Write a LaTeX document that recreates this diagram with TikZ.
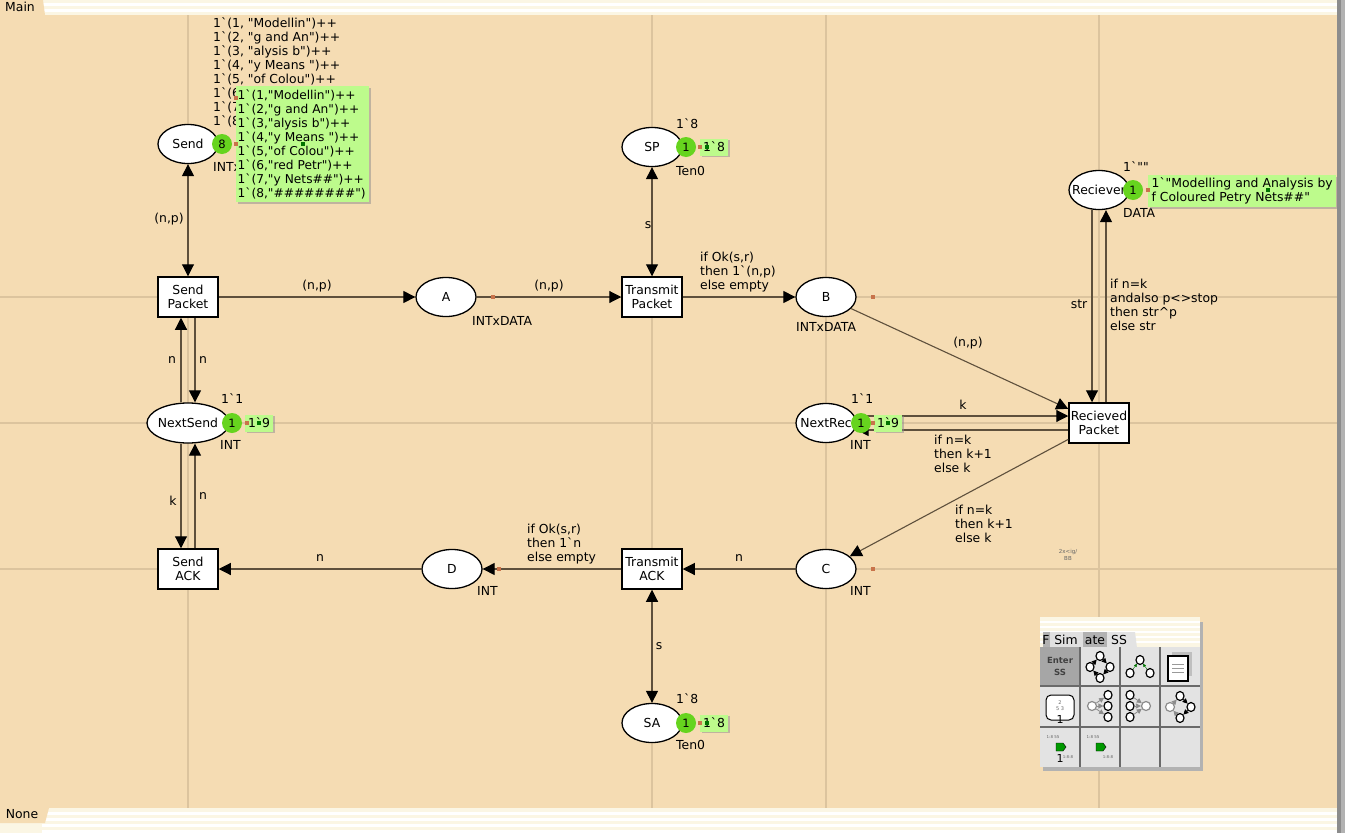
\documentclass[tikz,border=0pt]{standalone}
\usepackage{fontspec}
\setmainfont{DejaVu Sans}[Ligatures=TeXOff]
\usetikzlibrary{arrows.meta,shadows,shapes.geometric}
\definecolor{pagebg}{HTML}{F5DCB3}
\definecolor{guide}{HTML}{DCC49E}
\definecolor{stripe}{HTML}{FBF6E4}
\definecolor{arcline}{HTML}{5E503C}
\definecolor{tokengreen}{HTML}{66D41E}
\definecolor{markgreen}{HTML}{BDFB8C}
\definecolor{dotred}{HTML}{C8734A}
\definecolor{panelgray}{HTML}{E3E3E3}
\definecolor{panelline}{HTML}{6A6A6A}
\newcommand{\cpnfont}{\fontsize{12.4}{14}\selectfont}
\tikzset{
	txt/.style={font=\cpnfont,inner sep=0pt,align=left},
	place/.style={draw=black,line width=1.3pt,fill=white,ellipse,minimum width=60pt,minimum height=39pt,inner xsep=-12pt,inner ysep=0pt,font=\cpnfont},
	trans/.style={draw=black,line width=1.5pt,fill=white,rectangle,minimum width=60pt,minimum height=40pt,inner sep=0pt,align=center,font=\cpnfont},
	token/.style={circle,fill=tokengreen,minimum size=20pt,inner sep=0pt,font=\fontsize{11.5}{13}\selectfont},
	marking/.style={fill=markgreen,inner sep=1.5pt,align=left,drop shadow={shadow xshift=1.5pt,shadow yshift=-1.5pt,fill=black!45},font=\cpnfont},
	arc/.style={draw=arcline,line width=1.1pt,-{Triangle[length=12pt,width=12pt,fill=black,color=black]}},
	duoarc/.style={draw=arcline,line width=1.1pt,{Triangle[length=12pt,width=12pt,fill=black,color=black]}-{Triangle[length=12pt,width=12pt,fill=black,color=black]}},
	dot/.style={fill=dotred,minimum size=4pt,inner sep=0pt},
	greendot/.style={fill=green!45!black,minimum size=3.5pt,inner sep=0pt},
	icon/.style={draw=black,line width=1.2pt,fill=white,ellipse,minimum width=8pt,minimum height=9pt,inner sep=0pt},
	fadedicon/.style={draw=black!45,line width=1.2pt,fill=white,ellipse,minimum width=9pt,minimum height=9pt,inner sep=0pt},
	iconarc/.style={-{Triangle[length=5pt,width=5pt]},line width=0.8pt},
	fadedarc/.style={draw=black!45,-{Triangle[length=5pt,width=5pt]},line width=0.8pt},
}
\begin{document}
\begin{tikzpicture}[x=1pt,y=-1pt,>=stealth]
\useasboundingbox (0,0) rectangle (1345,833);
\fill[stripe] (0,0) rectangle (1345,833);
\fill[pagebg] (0,15) rectangle (1337,808);
% The stripes at the top and the bottom
\foreach \yy in {3,9,812,818,824,830}
{
	\fill[white] (42,\yy) rectangle (1337,\yy+2.5);
}
\fill[pagebg] (0,0) -- (43,0) -- (45,15) -- (0,15) -- cycle;
\fill[pagebg] (0,808) -- (49,808) -- (45,823) -- (0,823) -- cycle;
\node[txt] (maintab) at (20,6.5) {Main};
\node[txt] (nonetab) at (22,814) {None};
% The right border
\fill[black!45] (1337,0) rectangle (1345,833);
\fill[black!30] (1341,0) rectangle (1345,833);
% The guide lines
\foreach \xx in {188,652,826,1099}
{
	\draw[guide,line width=1.5pt] (\xx,15) -- (\xx,808);
}
\foreach \yy in {297,423,569}
{
	\draw[guide,line width=1.5pt] (0,\yy) -- (1337,\yy);
}

% The places
\node[place] (send) at (188,144) {Send};
\node[place,minimum width=82pt,minimum height=40pt] (nextsend) at (188,423) {NextSend};
\node[place] (a) at (446,297) {A};
\node[place] (b) at (826,297) {B};
\node[place] (c) at (826,569) {C};
\node[place] (d) at (452,569) {D};
\node[place] (sp) at (652,147) {SP};
\node[place] (sa) at (652,723) {SA};
\node[place] (nextrec) at (826,423) {NextRec};
\node[place] (reciever) at (1099,190) {Reciever};

% The transitions
\node[trans] (sendpacket) at (188,297) {Send\\Packet};
\node[trans] (sendack) at (188,569) {Send\\ACK};
\node[trans] (transmitpacket) at (652,297) {Transmit\\Packet};
\node[trans] (transmitack) at (652,569) {Transmit\\ACK};
\node[trans] (recievedpacket) at (1099,423) {Recieved\\Packet};

% The arcs
\draw[duoarc] (send) -- (sendpacket);
\draw[arc] (sendpacket) -- (a);
\draw[arc] (a) -- (transmitpacket);
\draw[arc] (transmitpacket) -- (b);
\draw[duoarc] (sp) -- (transmitpacket);
\draw[duoarc] (transmitack) -- (sa);
\draw[arc] (b) -- (recievedpacket);
\draw[arc] (recievedpacket) -- (c);
\draw[arc] (c) -- (transmitack);
\draw[arc] (transmitack) -- (d);
\draw[arc] (d) -- (sendack);
\draw[arc] ([xshift=-7pt]nextsend.north) -- ([xshift=-7pt]sendpacket.south);
\draw[arc] ([xshift=7pt]sendpacket.south) -- ([xshift=7pt]nextsend.north);
\draw[arc] ([xshift=-7pt]nextsend.south) -- ([xshift=-7pt]sendack.north);
\draw[arc] ([xshift=7pt]sendack.north) -- ([xshift=7pt]nextsend.south);
\draw[arc] ([yshift=7pt]nextrec.east) -- ([yshift=7pt]recievedpacket.west);
\draw[arc] ([yshift=-7pt]recievedpacket.west) -- ([yshift=-7pt]nextrec.east);
\draw[arc] ([xshift=-7pt]reciever.south) -- ([xshift=-7pt]recievedpacket.north);
\draw[arc] ([xshift=7pt]recievedpacket.north) -- ([xshift=7pt]reciever.south);

% The arc labels
\node[txt] (lsend) at (169,219) {(n,p)};
\node[txt] (lsa) at (317,286) {(n,p)};
\node[txt] (lat) at (549,286) {(n,p)};
\node[txt] (ls) at (648,225) {s};
\node[txt,anchor=north west] (lok) at (700,252) {if Ok(s,r)\\then 1`(n,p)\\else empty};
\node[txt] (lbr) at (968,343) {(n,p)};
\node[txt] (lnl) at (172,360) {n};
\node[txt] (lnr) at (203,360) {n};
\node[txt] (lkl) at (173,501) {k};
\node[txt] (lnb) at (203,496) {n};
\node[txt] (lk) at (963,405) {k};
\node[txt,anchor=north west] (lifa) at (934,435) {if n=k\\then k+1\\else k};
\node[txt,anchor=north west] (lifb) at (955,505) {if n=k\\then k+1\\else k};
\node[txt] (lstr) at (1079,304) {str};
\node[txt,anchor=north west] (lif) at (1110,279) {if n=k\\andalso p<>stop\\then str\^{}p\\else str};
\node[txt] (lnc) at (739,558) {n};
\node[txt,anchor=north west] (lokd) at (527,524) {if Ok(s,r)\\then 1`n\\else empty};
\node[txt] (lnd) at (320,558) {n};
\node[txt] (lsb) at (659,646) {s};

% The colour sets and the initial markings
\node[txt,anchor=west] (csa) at (472,321) {INTxDATA};
\node[txt,anchor=west] (csb) at (796,327) {INTxDATA};
\node[txt,anchor=west] (csc) at (850,591) {INT};
\node[txt,anchor=west] (csd) at (477,591) {INT};
\node[txt,anchor=west] (cssp) at (676,171) {Ten0};
\node[txt,anchor=west] (cssa) at (676,745) {Ten0};
\node[txt,anchor=west] (csnr) at (850,445) {INT};
\node[txt,anchor=west] (csns) at (220,445) {INT};
\node[txt,anchor=west] (csr) at (1123,213) {DATA};
\node[txt,anchor=west] (cssend) at (213,167) {INTxDATA};
\node[txt,anchor=west] (insp) at (676,124) {1`8};
\node[txt,anchor=west] (insa) at (676,699) {1`8};
\node[txt,anchor=west] (insn) at (221,399) {1`1};
\node[txt,anchor=west] (innr) at (851,399) {1`1};
\node[txt,anchor=west] (inr) at (1123,167) {1`""};
\node[txt,anchor=north west] (insend) at (213,17.5) {1`(1, "Modellin")++\\1`(2, "g and An")++\\1`(3, "alysis b")++\\1`(4, "y Means ")++\\1`(5, "of Colou")++\\1`(6, "red Petr")++\\1`(7, "y Nets\#\#")++\\1`(8, "\#\#\#\#\#\#\#\#")};

% The current markings
\node[marking,anchor=north west,font=\fontsize{12.2}{14}\selectfont,text width=130pt,minimum height=116pt] (marksend) at (236,86) {1`(1,"Modellin")++\\1`(2,"g and An")++\\1`(3,"alysis b")++\\1`(4,"y Means ")++\\1`(5,"of Colou")++\\1`(6,"red Petr")++\\1`(7,"y Nets\#\#")++\\1`(8,"\#\#\#\#\#\#\#\#")};
\node[marking,minimum width=28pt,minimum height=17pt] (marksp) at (714,147) {1`8};
\node[marking,minimum width=28pt,minimum height=17pt] (marksa) at (714,723) {1`8};
\node[marking,minimum width=28pt,minimum height=17pt] (markns) at (259,423) {1`9};
\node[marking,minimum width=28pt,minimum height=17pt] (marknr) at (888,423) {1`9};
\node[marking,anchor=north west,minimum width=188pt,minimum height=32pt] (markr) at (1148,175) {1`"Modelling and Analysis by\\f Coloured Petry Nets\#\#"};

% The tokens
\node[token] (tsend) at (222,144) {8};
\node[token] (tns) at (232,423) {1};
\node[token] (tsp) at (686,147) {1};
\node[token] (tsa) at (686,723) {1};
\node[token] (tnr) at (861,423) {1};
\node[token] (tr) at (1133,190) {1};

% The small squares
\foreach \px/\py in {236/98,236/144,247/423,700/147,700/723,873/423,1148/190,493/297,873/297,873/569,499/569}
{
	\node[dot] at (\px,\py) {};
}
\foreach \px/\py in {303/144,259/423,707/147,707/723,888/423,1268/190}
{
	\node[greendot] at (\px,\py) {};
}

% The tiny text
\node[font=\fontsize{5.5}{6.5}\selectfont,text=black!60,align=center,inner sep=0pt] (tiny) at (1068,555) {2x<ig/\\BB};

% The tool box
\fill[black!30] (1043,622) rectangle (1203,771);
\fill[stripe] (1040,617) rectangle (1200,647);
\foreach \yy in {621,626,631,636,641}
{
	\fill[white] (1040,\yy) rectangle (1200,\yy+2);
}
\fill[black!30] (1043,632) rectangle (1107,648);
\fill[black!12] (1050,632) rectangle (1083,648);
\fill[panelgray] (1107,632) -- (1135,632) -- (1137,648) -- (1107,648) -- cycle;
\node[txt] (tabh) at (1046,640) {F};
\node[txt] (tabsim) at (1066,640) {Sim};
\node[txt] (tabate) at (1095,640) {ate};
\node[txt] (tabss) at (1119,640) {SS};
\fill[panelgray] (1040,647) rectangle (1200,767);
\fill[black!35] (1040,647) rectangle (1080,686);
\foreach \xx in {1080,1120,1160}
{
	\draw[panelline,line width=1.2pt] (\xx,647) -- (\xx,767);
}
\foreach \yy in {686,727}
{
	\draw[panelline,line width=1.2pt] (1040,\yy) -- (1200,\yy);
}
\node[font=\fontsize{8.5}{12}\selectfont\bfseries,text=black!75,align=center,inner sep=0pt] (enterss) at (1060,666) {Enter\\SS};

% The icons
\node[icon] (ia) at (1100,656) {};
\node[icon] (ib) at (1090,667) {};
\node[icon] (ic) at (1110,667) {};
\node[icon] (id) at (1100,678) {};
\draw[iconarc] (ia) -- (ic);
\draw[iconarc] (ic) -- (id);
\draw[iconarc] (id) -- (ib);
\draw[iconarc] (ib) -- (ia);
\node[icon] (ie) at (1140,660) {};
\node[icon] (if) at (1130,673) {};
\node[icon] (ig) at (1150,673) {};
\draw[-{Triangle[length=3pt,width=3pt]},green!45!black] (if) -- (ie);
\draw[-{Triangle[length=3pt,width=3pt]},green!45!black] (ig) -- (ie);
\fill[black!25] (1172,652) rectangle (1192,676);
\draw[black,line width=1.5pt,fill=white] (1168,656) rectangle (1188,681);
\foreach \yy in {664,668,672}
{
	\draw[black!40,line width=0.4pt] (1172,\yy) -- (1184,\yy);
}
\draw[black,line width=1pt,fill=white,rounded corners=5pt] (1046,695) rectangle (1074,720);
\node[font=\fontsize{5}{6}\selectfont,text=black!60,inner sep=0pt,align=center] (ipage) at (1060,706) {2\\5 3};
\node[font=\fontsize{11}{12}\selectfont,inner sep=0pt] (ione) at (1060,719) {1};
\node[fadedicon] (jd) at (1092,706) {};
\node[icon] (jf) at (1108,695) {};
\node[icon] (jg) at (1108,706) {};
\node[icon] (jh) at (1108,717) {};
\draw[fadedarc] (jd) -- (jf);
\draw[fadedarc] (jd) -- (jg);
\draw[fadedarc] (jd) -- (jh);
\node[icon] (ka) at (1130,695) {};
\node[icon] (kb) at (1130,706) {};
\node[icon] (kc) at (1130,717) {};
\node[fadedicon] (kd) at (1146,706) {};
\draw[fadedarc] (ka) -- (kd);
\draw[fadedarc] (kb) -- (kd);
\draw[fadedarc] (kc) -- (kd);
\node[icon] (la) at (1180,696) {};
\node[fadedicon] (lb) at (1170,707) {};
\node[icon] (lc) at (1191,707) {};
\node[icon] (ld) at (1180,718) {};
\draw[iconarc] (la) -- (lc);
\draw[iconarc] (lc) -- (ld);
\draw[fadedarc] (ld) -- (lb);
\draw[fadedarc] (lb) -- (la);
% The bottom row of the tool box
\foreach \px in {1060,1100}
{
	\fill[green!60!black,draw=black,thin] (\px-4,743) -- (\px+3,743) -- (\px+6,747) -- (\px+3,751) -- (\px-4,751) -- cycle;
	\node[font=\fontsize{4}{5}\selectfont,text=black!60,inner sep=0pt] at (\px-7,737) {1:8 55};
	\node[font=\fontsize{4}{5}\selectfont,text=black!60,inner sep=0pt] at (\px+8,757) {1:8:8};
}
\node[font=\fontsize{11}{12}\selectfont,inner sep=0pt] (itwo) at (1060,758) {1};
\end{tikzpicture}
\end{document}
